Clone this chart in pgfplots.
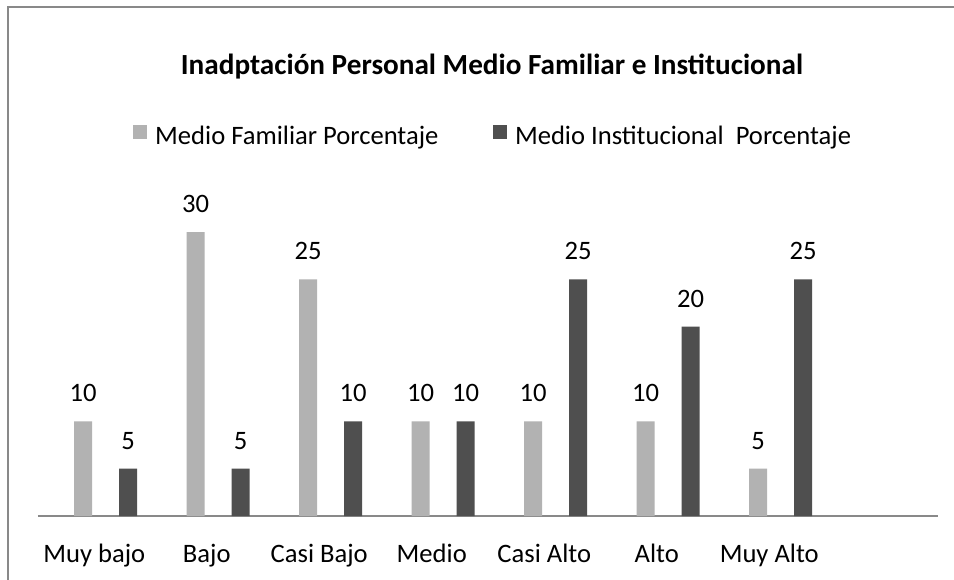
\documentclass[border=0pt]{standalone}
\usepackage{fontspec}
\setmainfont{Carlito}
\usepackage{pgfplots}
\pgfplotsset{compat=1.18}
\definecolor{barlight}{HTML}{B2B2B2}
\definecolor{bardark}{HTML}{4F4F4F}
\definecolor{framegray}{HTML}{898989}
\newcommand\fs{\fontsize{26.6}{30}\selectfont}
\newcommand\fst{\fontsize{29.2}{34}\selectfont}
\pgfplotsset{sqlegend/.style={legend image code/.code={\fill[##1] (0pt,5.7pt) rectangle (14pt,19.7pt);}}}

\begin{document}
\begin{tikzpicture}
\useasboundingbox (-38pt,-63pt) rectangle (916pt,516pt);
\fill[white] (-38pt,-63pt) rectangle (916pt,516pt);
\draw[framegray, line width=2pt] (-30pt,-80pt) -- (-30pt,509pt) -- (940pt,509pt);
\begin{axis}[
  at={(0pt,0pt)}, anchor=south west,
  scale only axis, width=900pt, height=284pt,
  xmin=-0.5, xmax=7.5, ymin=0, ymax=30,
  ybar, bar width=0.16,
  axis x line*=bottom, axis y line=none,
  x axis line style={framegray, line width=2pt},
  xtick={0,...,6},
  xticklabels={Muy bajo,Bajo,Casi Bajo,Medio,Casi Alto,Alto,Muy Alto},
  xtick style={draw=none},
  xticklabel style={font=\fs, anchor=base, yshift=-42.3pt},
  ytick=\empty,
  nodes near coords,
  nodes near coords style={font=\fs, anchor=base, yshift=19.4pt, text=black},
  /pgf/number format/assume math mode=true,
  clip=false,
  title={Inadptación Personal Medio Familiar e Institucional},
  title style={font=\fst\bfseries, at={(0.5044,1.5342)}, anchor=base, yshift=0pt},
  legend style={at={(0.1056,1.3394)}, anchor=west, legend columns=2,
    draw=none, fill=none, inner sep=0pt, font=\fs,
    nodes={inner sep=0pt, anchor=base west},
    /tikz/every odd column/.append style={column sep=8pt},
    /tikz/every even column/.append style={column sep=54.6pt}},
]
\addplot[fill=barlight, draw=none, bar shift=-0.098, sqlegend]
  coordinates {(0,10)(1,30)(2,25)(3,10)(4,10)(5,10)(6,5)};
\addplot[fill=bardark, draw=none, bar shift=0.302, sqlegend]
  coordinates {(0,5)(1,5)(2,10)(3,10)(4,25)(5,20)(6,25)};
\legend{Medio Familiar Porcentaje, Medio Institucional\ \ Porcentaje}
\end{axis}
\end{tikzpicture}
\end{document}
